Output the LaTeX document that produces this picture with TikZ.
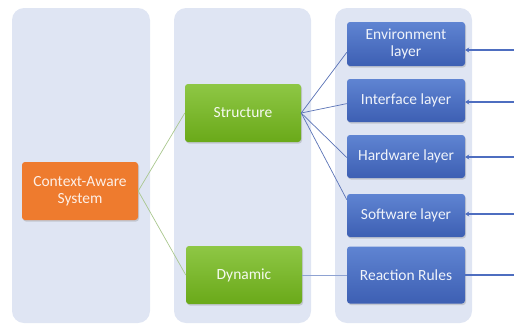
\documentclass[tikz,border=0pt]{standalone}
\usepackage{fontspec}
\setmainfont{Carlito}
\usetikzlibrary{arrows.meta,positioning,shadows}

\definecolor{panelbg}{HTML}{DFE5F3}
\definecolor{sysorange}{HTML}{EE7B2E}
\definecolor{greentop}{HTML}{8EC745}
\definecolor{greenbot}{HTML}{6AA919}
\definecolor{bluetop}{HTML}{5F84D2}
\definecolor{bluebot}{HTML}{3D5FB3}
\definecolor{linkgreen}{HTML}{A9C78E}
\definecolor{linkblue}{HTML}{5A73B6}
\definecolor{linkpale}{HTML}{8EA2D2}
\definecolor{feedblue}{HTML}{4E6EC0}

\tikzset{
  panel/.style={fill=panelbg, rounded corners=12pt},
  box/.style={rounded corners=3pt, align=center, inner sep=2pt,
    drop shadow={opacity=0.3, shadow xshift=1pt, shadow yshift=-1.5pt}},
  orangebox/.style={box, fill=sysorange, text=white!88!sysorange,
    minimum width=116pt, minimum height=58pt},
  greenbox/.style={box, top color=greentop, bottom color=greenbot,
    text=white!92!greentop, minimum width=116pt, minimum height=58pt},
  bluebox/.style={box, top color=bluetop, bottom color=bluebot,
    text=white!90!bluetop, minimum width=118pt, minimum height=43pt},
  feed/.style={draw=feedblue, line width=1.2pt, -{Stealth[length=4pt,width=5pt]}}
}

\begin{document}
\begin{tikzpicture}[x=1pt, y=-1pt, every node/.style={font=\fontsize{15.5}{17.5}\selectfont}]
    \useasboundingbox (0,0) rectangle (514,325);

    % background columns
    \fill[panel] (12,8) rectangle (150,323);
    \fill[panel] (174,8) rectangle (311,323);
    \fill[panel] (335,8) rectangle (472,323);

    % system and its two views
    \node[orangebox] (system) at (80,191) {Context-Aware\\System};
    \node[greenbox] (structure) at (243,113) {Structure};
    \node[greenbox] (dynamic) at (244,275) {Dynamic};

    % layers
    \node[bluebox, minimum height=44pt] (envlayer) at (406,44) {Environment\\layer};
    \node[bluebox] (iflayer) at (406,100.5) {Interface layer};
    \node[bluebox] (hwlayer) at (406,156.5) {Hardware layer};
    \node[bluebox] (swlayer) at (406,215.5) {Software layer};
    \node[bluebox, minimum height=57pt] (rules) at (406,275) {Reaction Rules};

    % links
    \draw[linkgreen, line width=0.7pt] (system.east) -- (structure.west);
    \draw[linkgreen, line width=0.7pt] (system.east) -- (dynamic.west);
    \foreach \target/\ang in {envlayer/188, iflayer/183, hwlayer/181, swlayer/165}
        \draw[linkblue, line width=0.7pt] (structure.east) -- (\target.\ang);
    \draw[linkpale, line width=0.8pt] (dynamic.east) -- (rules.west);

    % incoming feeds from the right
    \coordinate (in1) at (514,50);
    \coordinate (in2) at (514,102);
    \coordinate (in3) at (514,157);
    \coordinate (in4) at (514,214);
    \coordinate (in5) at (514,275);
    \draw[feed] (in1) -- (in1 -| envlayer.east);
    \draw[feed] (in2) -- (in2 -| iflayer.east);
    \draw[feed] (in3) -- (in3 -| hwlayer.east);
    \draw[feed] (in4) -- (in4 -| swlayer.east);
    \draw[draw=feedblue, line width=1.2pt] (in5) -- (rules.east);
\end{tikzpicture}
\end{document}
